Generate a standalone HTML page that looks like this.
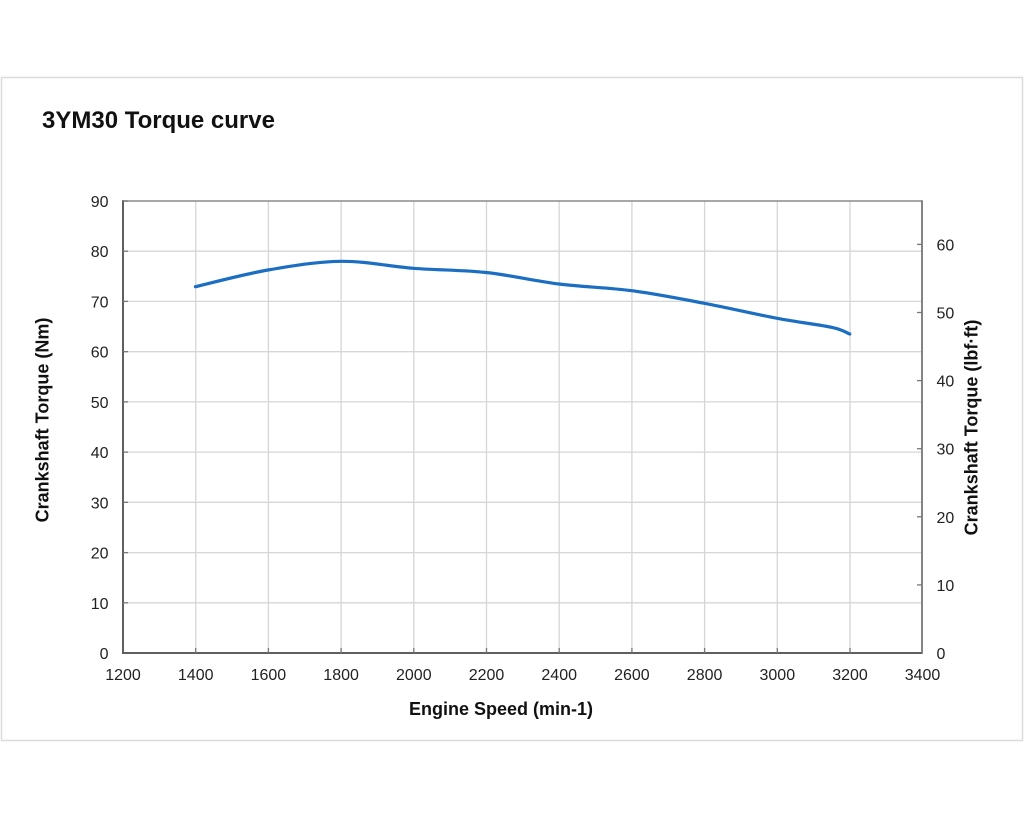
<!DOCTYPE html>
<html>
<head>
<meta charset="utf-8">
<style>
  html, body { margin: 0; padding: 0; background: #ffffff; }
  svg { display: block; }
  text { font-family: "Liberation Sans", Arial, sans-serif; }
</style>
</head>
<body>
<svg width="1024" height="819" viewBox="0 0 1024 819" xmlns="http://www.w3.org/2000/svg">
  <rect x="0" y="0" width="1024" height="819" fill="#ffffff"/>
  <!-- outer frame -->
  <rect x="1.5" y="77.5" width="1021" height="663" fill="#ffffff" stroke="#dcdcdc" stroke-width="1.5"/>

  <!-- title -->
  <text x="42" y="128" font-size="24" font-weight="bold" fill="#111">3YM30 Torque curve</text>

  <!-- horizontal gridlines -->
  <g stroke="#d6d6d6" stroke-width="1.3">
    <line x1="123" y1="602.8" x2="922" y2="602.8"/>
    <line x1="123" y1="552.6" x2="922" y2="552.6"/>
    <line x1="123" y1="502.3" x2="922" y2="502.3"/>
    <line x1="123" y1="452.1" x2="922" y2="452.1"/>
    <line x1="123" y1="401.9" x2="922" y2="401.9"/>
    <line x1="123" y1="351.7" x2="922" y2="351.7"/>
    <line x1="123" y1="301.4" x2="922" y2="301.4"/>
    <line x1="123" y1="251.2" x2="922" y2="251.2"/>
  </g>
  <!-- vertical gridlines -->
  <g stroke="#d6d6d6" stroke-width="1.3">
    <line x1="195.7" y1="201" x2="195.7" y2="653"/>
    <line x1="268.4" y1="201" x2="268.4" y2="653"/>
    <line x1="341.1" y1="201" x2="341.1" y2="653"/>
    <line x1="413.8" y1="201" x2="413.8" y2="653"/>
    <line x1="486.5" y1="201" x2="486.5" y2="653"/>
    <line x1="559.2" y1="201" x2="559.2" y2="653"/>
    <line x1="631.9" y1="201" x2="631.9" y2="653"/>
    <line x1="704.6" y1="201" x2="704.6" y2="653"/>
    <line x1="777.3" y1="201" x2="777.3" y2="653"/>
    <line x1="850.0" y1="201" x2="850.0" y2="653"/>
  </g>

  <!-- top border -->
  <line x1="123" y1="201" x2="922" y2="201" stroke="#8a8a8a" stroke-width="1.5"/>
  <!-- axes -->
  <line x1="123" y1="200.3" x2="123" y2="653.8" stroke="#5f5f5f" stroke-width="2"/>
  <line x1="122" y1="653" x2="922.5" y2="653" stroke="#5f5f5f" stroke-width="2"/>
  <line x1="922" y1="200.3" x2="922" y2="653.8" stroke="#777" stroke-width="1.8"/>

  <!-- left ticks (inward) -->
  <g stroke="#777" stroke-width="1.3">
    <line x1="123" y1="201" x2="128" y2="201"/>
    <line x1="123" y1="251.2" x2="128" y2="251.2"/>
    <line x1="123" y1="301.4" x2="128" y2="301.4"/>
    <line x1="123" y1="351.7" x2="128" y2="351.7"/>
    <line x1="123" y1="401.9" x2="128" y2="401.9"/>
    <line x1="123" y1="452.1" x2="128" y2="452.1"/>
    <line x1="123" y1="502.3" x2="128" y2="502.3"/>
    <line x1="123" y1="552.6" x2="128" y2="552.6"/>
    <line x1="123" y1="602.8" x2="128" y2="602.8"/>
  </g>
  <!-- right ticks (inward) -->
  <g stroke="#777" stroke-width="1.3">
    <line x1="917" y1="584.9" x2="922" y2="584.9"/>
    <line x1="917" y1="516.8" x2="922" y2="516.8"/>
    <line x1="917" y1="448.7" x2="922" y2="448.7"/>
    <line x1="917" y1="380.6" x2="922" y2="380.6"/>
    <line x1="917" y1="312.5" x2="922" y2="312.5"/>
    <line x1="917" y1="244.4" x2="922" y2="244.4"/>
  </g>
  <!-- bottom ticks -->
  <g stroke="#777" stroke-width="1.3">
    <line x1="195.7" y1="648" x2="195.7" y2="653"/>
    <line x1="268.4" y1="648" x2="268.4" y2="653"/>
    <line x1="341.1" y1="648" x2="341.1" y2="653"/>
    <line x1="413.8" y1="648" x2="413.8" y2="653"/>
    <line x1="486.5" y1="648" x2="486.5" y2="653"/>
    <line x1="559.2" y1="648" x2="559.2" y2="653"/>
    <line x1="631.9" y1="648" x2="631.9" y2="653"/>
    <line x1="704.6" y1="648" x2="704.6" y2="653"/>
    <line x1="777.3" y1="648" x2="777.3" y2="653"/>
    <line x1="850.0" y1="648" x2="850.0" y2="653"/>
  </g>

  <!-- left tick labels -->
  <g font-size="16" fill="#222" text-anchor="end">
    <text x="108.5" y="207">90</text>
    <text x="108.5" y="257.2">80</text>
    <text x="108.5" y="307.4">70</text>
    <text x="108.5" y="357.7">60</text>
    <text x="108.5" y="407.9">50</text>
    <text x="108.5" y="458.1">40</text>
    <text x="108.5" y="508.3">30</text>
    <text x="108.5" y="558.6">20</text>
    <text x="108.5" y="608.8">10</text>
    <text x="108.5" y="659">0</text>
  </g>
  <!-- right tick labels -->
  <g font-size="16" fill="#222" text-anchor="start">
    <text x="936.5" y="659">0</text>
    <text x="936.5" y="590.9">10</text>
    <text x="936.5" y="522.8">20</text>
    <text x="936.5" y="454.7">30</text>
    <text x="936.5" y="386.6">40</text>
    <text x="936.5" y="318.5">50</text>
    <text x="936.5" y="250.4">60</text>
  </g>
  <!-- x tick labels -->
  <g font-size="16" fill="#222" text-anchor="middle">
    <text x="123" y="680">1200</text>
    <text x="195.7" y="680">1400</text>
    <text x="268.4" y="680">1600</text>
    <text x="341.1" y="680">1800</text>
    <text x="413.8" y="680">2000</text>
    <text x="486.5" y="680">2200</text>
    <text x="559.2" y="680">2400</text>
    <text x="631.9" y="680">2600</text>
    <text x="704.6" y="680">2800</text>
    <text x="777.3" y="680">3000</text>
    <text x="850.0" y="680">3200</text>
    <text x="922.5" y="680">3400</text>
  </g>

  <!-- axis titles -->
  <text x="501" y="715" font-size="18" font-weight="bold" fill="#111" text-anchor="middle">Engine Speed (min-1)</text>
  <text transform="translate(48.5,420) rotate(-90)" font-size="18" font-weight="bold" fill="#111" text-anchor="middle">Crankshaft Torque (Nm)</text>
  <text transform="translate(977.5,427.5) rotate(-90)" font-size="18" font-weight="bold" fill="#111" text-anchor="middle">Crankshaft Torque (lbf·ft)</text>

  <!-- torque curve -->
  <path fill="none" stroke="#1b6ec2" stroke-width="3.2" stroke-linecap="round" stroke-linejoin="round"
    d="M195.4,286.7
       C207.5,283.9 243.9,274.2 268.1,270.0
       C292.3,265.8 316.6,261.6 340.8,261.3
       C365.0,261.0 389.3,266.4 413.5,268.3
       C437.7,270.2 462.0,269.9 486.2,272.5
       C510.4,275.1 534.8,281.0 559.0,284.0
       C583.2,287.0 607.5,287.5 631.7,290.7
       C655.9,293.9 680.2,298.7 704.4,303.3
       C728.6,307.9 755.9,314.3 777.1,318.3
       C798.3,322.3 819.5,324.7 831.6,327.3
       C843.7,329.9 846.8,332.9 849.8,334.0"/>
</svg>
</body>
</html>
